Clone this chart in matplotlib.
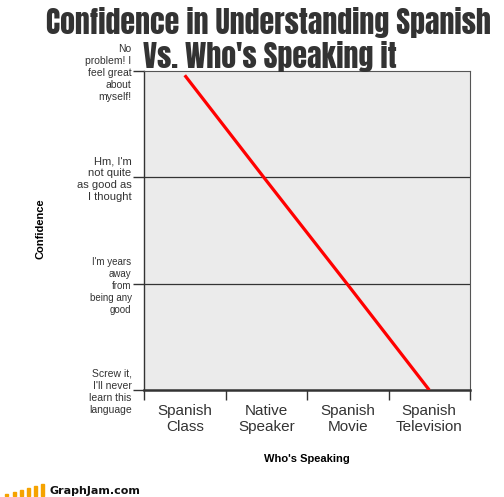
import matplotlib.pyplot as plt
plt.switch_backend('agg')
from matplotlib.patches import Rectangle

# data
categories = ["Spanish\nClass", "Native\nSpeaker", "Spanish\nMovie", "Spanish\nTelevision"]
confidence = [2.96, 1.97, 0.99, 0.0]
level_ticks = [0, 1, 2, 3]
level_labels = ["Screw it,\nI'll never\nlearn this\nlanguage",
                "I'm years\naway\nfrom\nbeing any\ngood",
                "Hm, I'm\nnot quite\nas good as\nI thought",
                "No\nproblem! I\nfeel great\nabout\nmyself!"]
level_sizes = [7.5, 7, 8, 7.5]

W, H = 504, 497
sans = ["Liberation Sans", "DejaVu Sans"]
fig = plt.figure(figsize=(W / 100, H / 100), dpi=100)
fig.patch.set_facecolor("white")
ax = fig.add_axes([144 / W, 1 - 390 / H, (470 - 144) / W, (390 - 71) / H])
ax.set_facecolor("#ebebeb")

x = list(range(len(categories)))
ax.plot(x, confidence, color="#ff0000", lw=2.3, solid_capstyle="butt", zorder=3)

ax.set_xlim(-0.5, len(categories) - 0.5)
ax.set_ylim(0, 3)
for yv in [1, 2]:
    ax.axhline(yv, color="#333333", lw=0.9, zorder=2)

ax.set_xticks([i - 0.5 for i in range(len(categories) + 1)])
ax.set_xticklabels([])
ax.set_xticks(x, minor=True)
ax.set_xticklabels(categories, minor=True, fontsize=11, color="#333333",
                   family=sans, linespacing=1.2)
ax.tick_params(axis="x", which="major", length=7.5, width=1, color="#333333", direction="out")
ax.tick_params(axis="x", which="minor", length=0, pad=10)

ax.set_yticks(level_ticks)
ax.set_yticklabels(level_labels, color="#333333", family=sans, linespacing=1.25)
for lab, s in zip(ax.get_yticklabels(), level_sizes):
    lab.set_fontsize(s)
ax.tick_params(axis="y", length=8, width=1, color="#333333", direction="out", pad=1)

for side in ["top", "right"]:
    ax.spines[side].set_color("#555555")
    ax.spines[side].set_linewidth(0.8)
ax.spines["left"].set_color("#333333")
ax.spines["left"].set_linewidth(1.0)
ax.spines["bottom"].set_color("#333333")
ax.spines["bottom"].set_linewidth(1.8)

fig.text(40 / W, 1 - 229 / H, "Confidence", rotation=90, ha="center", va="center",
         fontsize=8, fontweight="bold", color="black", family=sans)
fig.text(307 / W, 1 - 459 / H, "Who's Speaking", ha="center", va="center",
         fontsize=8, fontweight="bold", color="black", family=sans)

title_font = dict(family=["Anton", "DejaVu Sans"], fontsize=21.5, color="#333333",
                  ha="center", va="center")
fig.text(268 / W, 1 - 22 / H, "Confidence in Understanding Spanish", **title_font)
fig.text(270 / W, 1 - 56 / H, "Vs. Who's Speaking it", **title_font)

# logo
bar_x = [5, 13, 20, 27, 34, 41]
bar_h = [2, 4, 6, 8, 10, 12]
for bx, bh in zip(bar_x, bar_h):
    fig.patches.append(Rectangle((bx / W, 1 - 496 / H), 3 / W, bh / H,
                                 transform=fig.transFigure, color="#f5a300"))
fig.text(49 / W, 1 - 491 / H, "GraphJam.com", ha="left", va="center",
         fontsize=8, fontweight="bold", color="#111111", family="DejaVu Sans")

fig.savefig("out.png", dpi=100)
